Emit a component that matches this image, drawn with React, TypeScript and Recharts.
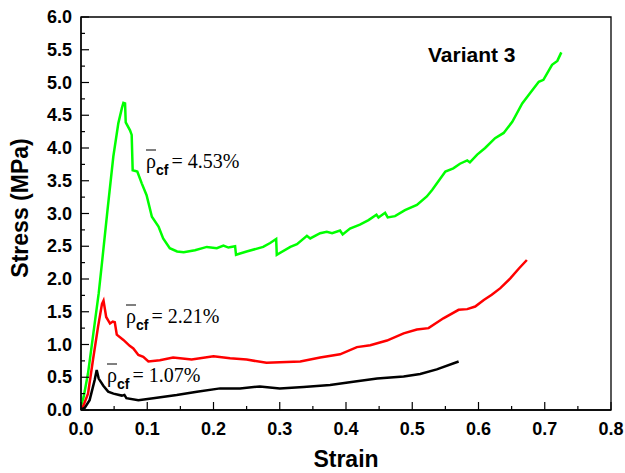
import React from 'react';
import { LineChart, Line, XAxis, YAxis, ReferenceArea } from 'recharts';

// stress-strain curves
const GREEN_STRAIN = [0, 0.004, 0.0106, 0.018, 0.0267, 0.0317, 0.04, 0.0488, 0.0564, 0.062, 0.064, 0.0665, 0.0675, 0.074, 0.0765, 0.078, 0.085, 0.0917, 0.099, 0.107, 0.117, 0.124, 0.134, 0.145, 0.155, 0.172, 0.19, 0.205, 0.215, 0.2225, 0.2326, 0.234, 0.25, 0.275, 0.2855, 0.2946, 0.2955, 0.316, 0.326, 0.341, 0.346, 0.361, 0.371, 0.379, 0.391, 0.395, 0.406, 0.421, 0.434, 0.446, 0.449, 0.459, 0.463, 0.474, 0.489, 0.507, 0.522, 0.53, 0.54, 0.55, 0.562, 0.572, 0.583, 0.587, 0.598, 0.61, 0.625, 0.638, 0.651, 0.666, 0.678, 0.691, 0.698, 0.711, 0.719, 0.725];
const GREEN_STRESS = [0.06, 0.2, 0.56, 1.12, 1.78, 2.25, 3.05, 3.87, 4.38, 4.62, 4.69, 4.68, 4.39, 4.27, 4.2, 3.66, 3.64, 3.46, 3.28, 2.95, 2.8, 2.62, 2.47, 2.42, 2.41, 2.44, 2.49, 2.47, 2.51, 2.48, 2.5, 2.37, 2.42, 2.49, 2.55, 2.61, 2.37, 2.49, 2.53, 2.66, 2.62, 2.7, 2.72, 2.7, 2.74, 2.68, 2.77, 2.83, 2.9, 2.98, 2.94, 3.01, 2.94, 2.96, 3.05, 3.13, 3.26, 3.36, 3.5, 3.64, 3.69, 3.76, 3.81, 3.78, 3.9, 4.0, 4.15, 4.23, 4.4, 4.68, 4.84, 5.01, 5.04, 5.27, 5.33, 5.46];

const RED_STRAIN = [0, 0.003, 0.0106, 0.018, 0.0257, 0.0317, 0.034, 0.038, 0.0438, 0.048, 0.051, 0.054, 0.064, 0.0735, 0.079, 0.0866, 0.094, 0.1017, 0.119, 0.139, 0.167, 0.2, 0.225, 0.25, 0.28, 0.3, 0.331, 0.361, 0.391, 0.4165, 0.4366, 0.4618, 0.487, 0.507, 0.5246, 0.547, 0.57, 0.583, 0.595, 0.608, 0.62, 0.633, 0.648, 0.661, 0.673];
const RED_STRESS = [0.02, 0.05, 0.25, 0.76, 1.27, 1.62, 1.67, 1.42, 1.32, 1.35, 1.34, 1.15, 1.07, 0.98, 0.94, 0.84, 0.81, 0.74, 0.76, 0.8, 0.77, 0.82, 0.79, 0.77, 0.72, 0.73, 0.74, 0.8, 0.85, 0.96, 0.99, 1.06, 1.17, 1.23, 1.25, 1.4, 1.53, 1.54, 1.58, 1.68, 1.76, 1.86, 2.01, 2.16, 2.29];

const BLACK_STRAIN = [0, 0.0055, 0.013, 0.0207, 0.0237, 0.0267, 0.0337, 0.041, 0.049, 0.0615, 0.0655, 0.0685, 0.0866, 0.109, 0.1445, 0.175, 0.21, 0.24, 0.27, 0.3, 0.336, 0.376, 0.411, 0.447, 0.487, 0.512, 0.537, 0.57];
const BLACK_STRESS = [0.01, 0.03, 0.15, 0.46, 0.61, 0.48, 0.37, 0.28, 0.25, 0.22, 0.23, 0.18, 0.15, 0.18, 0.23, 0.28, 0.33, 0.33, 0.36, 0.33, 0.35, 0.38, 0.43, 0.48, 0.51, 0.55, 0.62, 0.74];

const X_TICKS = [0, 0.05, 0.1, 0.15, 0.2, 0.25, 0.3, 0.35, 0.4, 0.45, 0.5, 0.55, 0.6, 0.65, 0.7, 0.75, 0.8];
const Y_TICKS = [0, 0.25, 0.5, 0.75, 1, 1.25, 1.5, 1.75, 2, 2.25, 2.5, 2.75, 3, 3.25, 3.5, 3.75, 4, 4.25, 4.5, 4.75, 5, 5.25, 5.5, 5.75, 6];

const zip = (xs: number[], ys: number[]) => xs.map((x, i) => ({ x, y: ys[i] }));
const greenData = zip(GREEN_STRAIN, GREEN_STRESS);
const redData = zip(RED_STRAIN, RED_STRESS);
const blackData = zip(BLACK_STRAIN, BLACK_STRESS);

const SANS = '"Liberation Sans", Arial, sans-serif';
const SERIF = '"Liberation Serif", "Times New Roman", serif';

const W = 625;
const H = 473;

const isMajor = (v: number, step: number) => Math.abs(v / step - Math.round(v / step)) < 1e-6;

function XTick({ x, y, payload }: any) {
  const major = isMajor(payload.value, 0.1);
  return (
    <g>
      <line x1={x} x2={x} y1={y} y2={y - (major ? 8 : 4)} stroke="#000" strokeWidth={1.2} />
      {major && (
        <text x={x} y={y + 25} textAnchor="middle" fontFamily={SANS} fontWeight="bold" fontSize={18} fill="#000">
          {payload.value.toFixed(1)}
        </text>
      )}
    </g>
  );
}

function YTick({ x, y, payload }: any) {
  const major = isMajor(payload.value, 0.5);
  return (
    <g>
      <line x1={x} x2={x + (major ? 8 : 4)} y1={y} y2={y} stroke="#000" strokeWidth={1.2} />
      {major && (
        <text x={x - 9} y={y + 6} textAnchor="end" fontFamily={SANS} fontWeight="bold" fontSize={18} fill="#000">
          {payload.value.toFixed(1)}
        </text>
      )}
    </g>
  );
}

function Rho({ x, y, value }: { x: number; y: number; value: string }) {
  return (
    <g>
      <line x1={x} x2={x + 10} y1={y - 18} y2={y - 18} stroke="#000" strokeWidth={1} />
      <text x={x} y={y} fontFamily={SERIF} fontSize={20} fill="#000">
        ρ
        <tspan fontFamily={SANS} fontWeight="bold" fontSize={14} dy={7}>cf</tspan>
        <tspan dy={-7} dx={3}>= {value}</tspan>
      </text>
    </g>
  );
}

export default function App() {
  return (
    <div style={{ position: 'fixed', left: 0, top: 0, width: W, height: H, background: '#fff' }}>
      <LineChart width={W} height={H} margin={{ top: 17, right: 14, left: 0, bottom: 0 }}>
        <XAxis
          dataKey="x"
          type="number"
          domain={[0, 0.8]}
          ticks={X_TICKS}
          interval={0}
          tickSize={0}
          tickMargin={0}
          tickLine={false}
          tick={<XTick />}
          height={63}
          axisLine={{ stroke: '#000', strokeWidth: 1.3 }}
          allowDataOverflow
        />
        <YAxis
          dataKey="y"
          type="number"
          domain={[0, 6]}
          ticks={Y_TICKS}
          interval={0}
          tickSize={0}
          tickMargin={0}
          tickLine={false}
          tick={<YTick />}
          width={81}
          axisLine={{ stroke: '#000', strokeWidth: 1.3 }}
          allowDataOverflow
        />
        <ReferenceArea x1={0} x2={0.8} y1={0} y2={6} fill="none" stroke="#000" strokeWidth={1.3} />
        <Line data={greenData} dataKey="y" type="linear" stroke="#00ff00" strokeWidth={2.5} dot={false} isAnimationActive={false} />
        <Line data={redData} dataKey="y" type="linear" stroke="#ff0000" strokeWidth={2.5} dot={false} isAnimationActive={false} />
        <Line data={blackData} dataKey="y" type="linear" stroke="#000000" strokeWidth={2.5} dot={false} isAnimationActive={false} />
      </LineChart>
      <svg width={W} height={H} style={{ position: 'absolute', left: 0, top: 0, pointerEvents: 'none' }}>
        <text x={428} y={62} fontFamily={SANS} fontWeight="bold" fontSize={21} fill="#000">Variant 3</text>
        <Rho x={146} y={168} value="4.53%" />
        <Rho x={126} y={323} value="2.21%" />
        <Rho x={107} y={382} value="1.07%" />
        <text x={346} y={467} textAnchor="middle" fontFamily={SANS} fontWeight="bold" fontSize={23} fill="#000">Strain</text>
        <text
          x={0}
          y={0}
          transform="translate(28,208) rotate(-90)"
          textAnchor="middle"
          fontFamily={SANS}
          fontWeight="bold"
          fontSize={23}
          fill="#000"
        >
          Stress (MPa)
        </text>
      </svg>
    </div>
  );
}
